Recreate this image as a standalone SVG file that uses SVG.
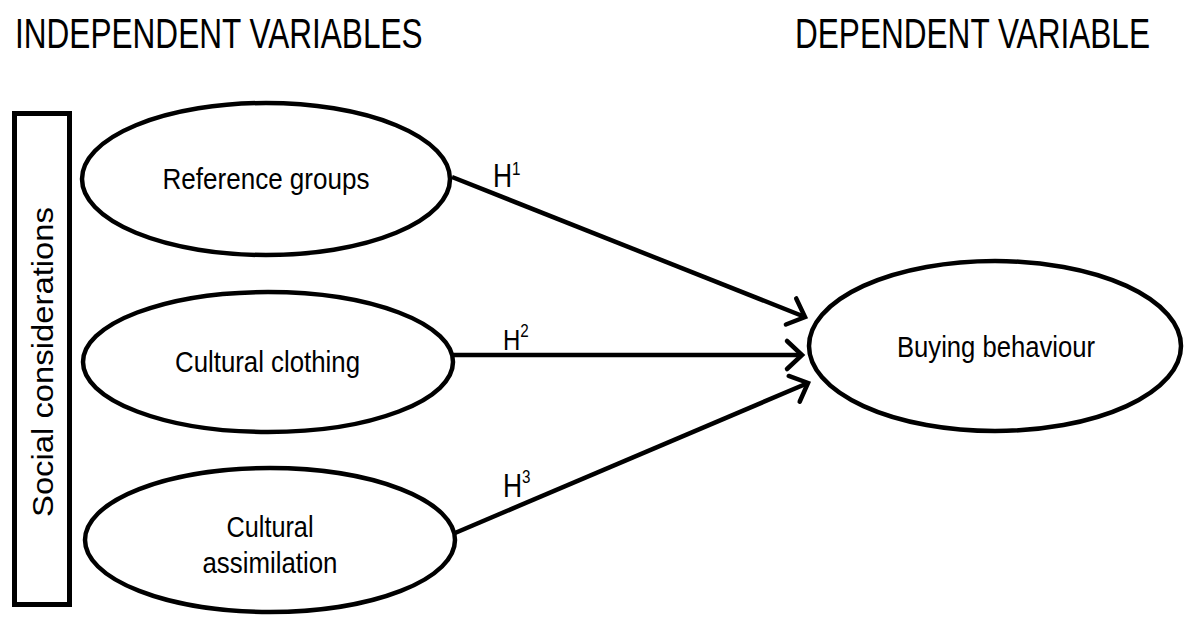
<svg xmlns="http://www.w3.org/2000/svg" width="1184" height="617" viewBox="0 0 1184 617">
<style>
text{font-family:"Liberation Sans",Arial,sans-serif;fill:#000}
.node{fill:#fff;stroke:#000;stroke-width:4.5}
.lbl{font-size:30px;text-anchor:middle}
.title{font-size:42px}
.h{font-size:33px}
.sup{font-size:19px}
.conn{stroke:#000;stroke-width:4.5;fill:none}
</style>
<defs>
<marker id="arr" markerUnits="userSpaceOnUse" markerWidth="40" markerHeight="40" viewBox="-20 -20 40 40" refX="0" refY="0" orient="auto">
<path d="M-15,-14 L0,0 L-15,14" fill="none" stroke="#000" stroke-width="4.5" stroke-linecap="round" stroke-linejoin="miter"/>
</marker>
</defs>
<rect width="1184" height="617" fill="#fff"/>
<g id="titles">
<text class="title" transform="translate(15,48) scale(0.752,1)">INDEPENDENT VARIABLES</text>
<text class="title" transform="translate(795,48) scale(0.752,1)">DEPENDENT VARIABLE</text>
</g>
<g id="social">
<rect x="14.5" y="113.5" width="55" height="491" fill="#fff" stroke="#000" stroke-width="5"/>
<text class="lbl" transform="translate(53,362) rotate(-90)" x="0" y="0" textLength="310" lengthAdjust="spacingAndGlyphs">Social considerations</text>
</g>
<g id="connectors">
<line class="conn" x1="452" y1="177" x2="805" y2="317" marker-end="url(#arr)"/>
<line class="conn" x1="453" y1="355" x2="802" y2="355" marker-end="url(#arr)"/>
<line class="conn" x1="455" y1="533" x2="808" y2="383" marker-end="url(#arr)"/>
<text class="h" transform="translate(493,187) scale(0.8,1)">H<tspan class="sup" dy="-12">1</tspan></text>
<text class="h" transform="translate(503,350) scale(0.8,1)" style="font-size:30px">H<tspan class="sup" dy="-13">2</tspan></text>
<text class="h" transform="translate(503,497) scale(0.8,1)">H<tspan class="sup" dy="-14">3</tspan></text>
</g>
<g id="reference-groups">
<ellipse class="node" cx="266" cy="179" rx="184" ry="76"/>
<text class="lbl" x="266" y="189" textLength="207" lengthAdjust="spacingAndGlyphs">Reference groups</text>
</g>
<g id="cultural-clothing">
<ellipse class="node" cx="268" cy="362" rx="185" ry="70"/>
<text class="lbl" x="267.5" y="372" textLength="185" lengthAdjust="spacingAndGlyphs">Cultural clothing</text>
</g>
<g id="cultural-assimilation">
<ellipse class="node" cx="270" cy="540" rx="185" ry="72"/>
<text class="lbl" x="270" y="537" textLength="87" lengthAdjust="spacingAndGlyphs">Cultural</text>
<text class="lbl" x="270" y="573" textLength="135" lengthAdjust="spacingAndGlyphs">assimilation</text>
</g>
<g id="buying-behaviour">
<ellipse class="node" cx="995" cy="346" rx="186" ry="85"/>
<text class="lbl" x="996" y="357" textLength="198" lengthAdjust="spacingAndGlyphs">Buying behaviour</text>
</g>
</svg>
